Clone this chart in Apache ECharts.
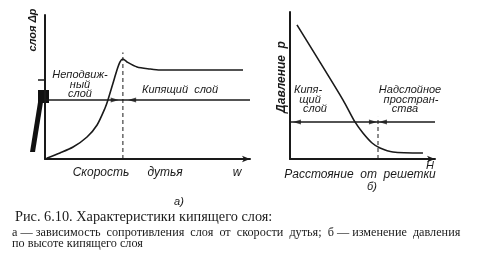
<!DOCTYPE html>
<html><head><meta charset="utf-8">
<script src="https://cdn.jsdelivr.net/npm/echarts@6/dist/echarts.min.js"></script>
<style>html,body{margin:0;padding:0;background:#fff}#c{width:482px;height:262px}</style>
</head><body><div id="c"></div>
<script>
// Chart а): resistance of bed vs blast velocity (relative units 0..100)
const curveA = [[0.8,0.5],[7.3,4.2],[13.7,8.3],[20.5,15.3],[25.4,23.6],[29.3,35.4],[30.7,41],[33.2,52.8],[35.1,61.8],[36.6,67.4],[38,69.4],[40,67.4],[44.9,63.9],[51.2,62.5],[56.1,61.8],[96.6,61.8]];
const levelA = [[0,41],[100,41]];
const dashA = [[38,0],[38,74]];
const arrowsRightA = [[34,41]];
const arrowsLeftA = [[42.5,41]];
// Chart б): pressure vs distance from grate
const curveB = [[4.8,91.2],[36.6,40.1],[44.8,25.2],[50.3,17.7],[56.6,10.9],[62.1,7.5],[71,4.8],[91.7,4.1]];
const levelB = [[0,25.2],[100,25.2]];
const dashB = [[60.7,0],[60.7,28.6]];
const arrowsRightB = [[57.2,25.2]];
const arrowsLeftB = [[4.8,25.2],[64.1,25.2]];

const ink = '#1a1a1a';
const lab = 'italic 11px "Liberation Sans", "DejaVu Sans", sans-serif';
const chart = echarts.init(document.getElementById('c'), null, {renderer:'canvas'});
function xAx(i){return {gridIndex:i,type:'value',min:0,max:100,axisLine:{show:true,lineStyle:{color:ink,width:2},symbol:['none','arrow'],symbolSize:[5,8]},axisTick:{show:false},axisLabel:{show:false},splitLine:{show:false}};}
function yAx(i){return {gridIndex:i,type:'value',min:0,max:100,axisLine:{show:true,lineStyle:{color:ink,width:2}},axisTick:{show:false},axisLabel:{show:false},splitLine:{show:false}};}
function ln(i,data,opt){return Object.assign({type:'line',xAxisIndex:i,yAxisIndex:i,data:data,symbol:'none',lineStyle:{color:ink,width:1.4},silent:true,animation:false},opt||{});}
function arr(i,data,rot){return {type:'scatter',xAxisIndex:i,yAxisIndex:i,data:data,symbol:'triangle',symbolSize:[5,8],symbolRotate:rot,itemStyle:{color:ink},silent:true,animation:false};}
function t(x,y,text,opt){return Object.assign({type:'text',x:x,y:y,style:{text:text,font:lab,fill:ink,align:'center',verticalAlign:'middle'}},opt||{});}
function ts(x,y,text,font,rot){const o={type:'text',x:x,y:y,style:{text:text,font:font,fill:ink,align:'center',verticalAlign:'middle'}}; if(rot) o.rotation=rot; return o;}

chart.setOption({
  animation:false,
  grid:[{left:45,top:15,width:205,height:144},{left:290,top:12,width:145,height:147}],
  xAxis:[xAx(0),xAx(1)],
  yAxis:[yAx(0),yAx(1)],
  series:[
    ln(0,curveA,{smooth:0.25,lineStyle:{color:ink,width:1.6}}),
    ln(0,levelA),
    ln(0,dashA,{lineStyle:{color:ink,width:1,type:[4,3]}}),
    arr(0,arrowsRightA,-90), arr(0,arrowsLeftA,90),
    ln(1,curveB,{smooth:0.25,lineStyle:{color:ink,width:1.6}}),
    ln(1,levelB),
    ln(1,dashB,{lineStyle:{color:ink,width:1,type:[4,3]}}),
    arr(1,arrowsRightB,-90), arr(1,arrowsLeftB,90)
  ],
  graphic:[
    // scan artifact on left axis
    {type:'polygon',shape:{points:[[30,152],[35,152],[44,96],[39,96]]},style:{fill:'#111'}},
    {type:'rect',shape:{x:38,y:90,width:11,height:13},style:{fill:'#111'}},
    {type:'line',shape:{x1:38,y1:80,x2:45,y2:80},style:{stroke:ink,lineWidth:1.5}},
    ts(33,30,'слоя Δp','bold italic 11px "Liberation Sans", sans-serif',Math.PI/2),
    t(80,75,'Неподвиж-'), t(80,85,'ный'), t(80,94,'слой'),
    t(180,90,'Кипящий  слой'),
    ts(101,173,'Скорость','italic 12px "Liberation Sans", sans-serif'),
    ts(165,173,'дутья','italic 12px "Liberation Sans", sans-serif'),
    ts(237,173,'w','italic 12px "Liberation Sans", sans-serif'),
    t(179,202,'а)'),
    ts(282,77,'Давление  р','bold italic 12px "Liberation Sans", sans-serif',Math.PI/2),
    t(308,90,'Кипя-'), t(310,100,'щий'), t(315,109,'слой'),
    t(410,90,'Надслойное'), t(411,100,'простран-'), t(405,109,'ства'),
    t(430,166,'H'),
    ts(360,175,'Расстояние  от  решетки','italic 12px "Liberation Sans", sans-serif'),
    t(372,187,'б)'),
    {type:'text',x:15,y:217,style:{text:'Рис. 6.10. Характеристики кипящего слоя:',font:'14.3px "Liberation Serif", serif',fill:ink,verticalAlign:'middle'}},
    {type:'text',x:12,y:233,style:{text:'а — зависимость  сопротивления  слоя  от  скорости  дутья;  б — изменение  давления',font:'12.2px "Liberation Serif", serif',fill:ink,verticalAlign:'middle'}},
    {type:'text',x:12,y:244,style:{text:'по высоте кипящего слоя',font:'12.2px "Liberation Serif", serif',fill:ink,verticalAlign:'middle'}}
  ]
});
</script></body></html>
